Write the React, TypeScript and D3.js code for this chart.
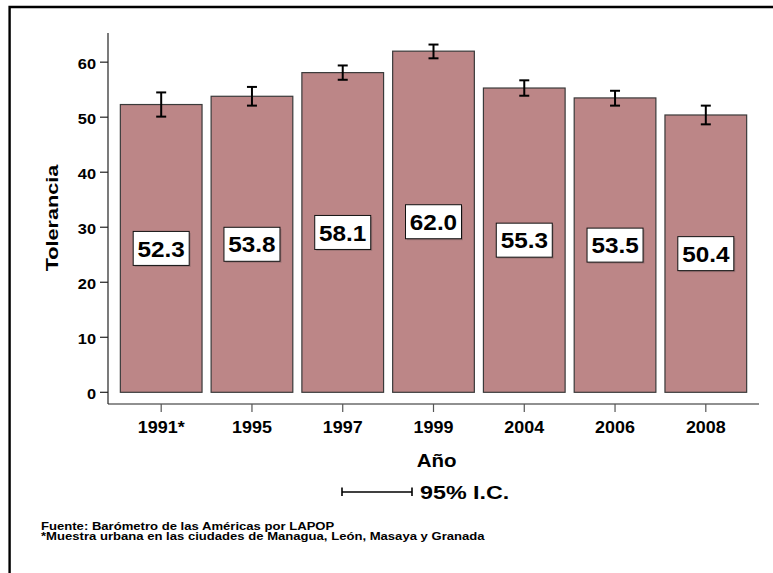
import React from "react";
import * as d3 from "d3";

const years = ["1991*", "1995", "1997", "1999", "2004", "2006", "2008"];
const means = [52.3, 53.8, 58.1, 62.0, 55.3, 53.5, 50.4];
const lower = [50.1, 52.1, 56.8, 60.7, 53.9, 52.1, 48.7];
const upper = [54.5, 55.5, 59.4, 63.2, 56.7, 54.8, 52.1];
const yTicks = [0, 10, 20, 30, 40, 50, 60];

const FONT = "'Liberation Sans', Arial, Helvetica, sans-serif";

function T(props: {
  x: number;
  y: number;
  size: number;
  sx?: number;
  anchor?: string;
  rotate?: number;
  fill?: string;
  children: React.ReactNode;
}) {
  const { x, y, size, sx = 1.15, anchor = "start", rotate = 0, fill = "#000", children } = props;
  return (
    <text
      transform={`translate(${x},${y}) rotate(${rotate}) scale(${sx},1)`}
      textAnchor={anchor}
      fontFamily={FONT}
      fontWeight="bold"
      fontSize={size}
      fill={fill}
    >
      {children}
    </text>
  );
}

export default function App() {
  const W = 773;
  const H = 573;
  const axisLeft = 108;
  const axisRight = 759;
  const axisBottom = 404;

  const y = d3.scaleLinear().domain([0, 65.3]).range([392.3, 33]);
  const x = d3
    .scaleBand<string>()
    .domain(years)
    .range([axisLeft, axisRight])
    .paddingInner(0.1)
    .paddingOuter(0.136);

  const bw = x.bandwidth();
  const boxW = 56;
  const boxH = 34;

  return (
    <svg
      width={W}
      height={H}
      style={{ position: "absolute", left: 0, top: 0, background: "#fff" }}
    >
      <rect x={0} y={0} width={W} height={H} fill="#fff" />
      {/* frame */}
      <path d={`M9.6,${H} V7 H${W}`} fill="none" stroke="#000" strokeWidth={2.4} />

      {/* bars */}
      {years.map((yr, i) => (
        <rect
          key={"b" + yr}
          x={x(yr)!}
          y={y(means[i])}
          width={bw}
          height={y(0) - y(means[i])}
          fill="#bc8687"
          stroke="#3a3a3a"
          strokeWidth={1.2}
        />
      ))}

      {/* error bars */}
      {years.map((yr, i) => {
        const cx = x(yr)! + bw / 2;
        return (
          <g key={"e" + yr} stroke="#000" strokeWidth={2}>
            <line x1={cx} x2={cx} y1={y(upper[i])} y2={y(lower[i])} />
            <line x1={cx - 5} x2={cx + 5} y1={y(upper[i])} y2={y(upper[i])} />
            <line x1={cx - 5} x2={cx + 5} y1={y(lower[i])} y2={y(lower[i])} />
          </g>
        );
      })}

      {/* value labels */}
      {years.map((yr, i) => {
        const cx = x(yr)! + bw / 2;
        const cy = y(means[i] / 2);
        return (
          <g key={"l" + yr}>
            <rect x={cx - boxW / 2 + 1.5} y={cy - boxH / 2 + 1.5} width={boxW} height={boxH} fill="#8a6a6b" opacity={0.6} />
            <rect x={cx - boxW / 2} y={cy - boxH / 2} width={boxW} height={boxH} fill="#fff" stroke="#111" strokeWidth={1} />
            <T x={cx} y={cy + 8.2} size={22.5} sx={1.08} anchor="middle">
              {means[i].toFixed(1)}
            </T>
          </g>
        );
      })}

      {/* y axis */}
      <line x1={axisLeft} x2={axisLeft} y1={33} y2={axisBottom} stroke="#222" strokeWidth={1.2} />
      {yTicks.map((t) => (
        <g key={"yt" + t}>
          <line x1={axisLeft - 8} x2={axisLeft} y1={y(t)} y2={y(t)} stroke="#222" strokeWidth={1.2} />
          <T x={96} y={y(t) + 6.4} size={14} sx={1.17} anchor="end">
            {t}
          </T>
        </g>
      ))}

      {/* x axis */}
      <line x1={axisLeft} x2={axisRight} y1={axisBottom} y2={axisBottom} stroke="#222" strokeWidth={1.2} />
      {years.map((yr) => {
        const cx = x(yr)! + bw / 2;
        return (
          <g key={"xt" + yr}>
            <line x1={cx} x2={cx} y1={axisBottom} y2={axisBottom + 8} stroke="#555" strokeWidth={1.2} />
            <T x={cx} y={433} size={16.3} sx={1.1} anchor="middle">
              {yr}
            </T>
          </g>
        );
      })}

      {/* axis titles */}
      <T x={436.7} y={466.7} size={17.7} sx={1.16} anchor="middle">
        Año
      </T>
      <T x={58.3} y={218} size={17.2} sx={1.26} anchor="middle" rotate={-90}>
        Tolerancia
      </T>

      {/* legend */}
      <g stroke="#000" strokeWidth={1.6}>
        <line x1={342} x2={412} y1={492} y2={492} />
        <line x1={342} x2={342} y1={487.5} y2={496} />
        <line x1={412} x2={412} y1={487.5} y2={496} />
      </g>
      <T x={420} y={499} size={18.5} sx={1.26}>
        95% I.C.
      </T>

      {/* footer */}
      <T x={41} y={529.5} size={10.4} sx={1.26}>
        Fuente: Barómetro de las Américas por LAPOP
      </T>
      <T x={41} y={539.5} size={10.4} sx={1.26}>
        *Muestra urbana en las ciudades de Managua, León, Masaya y Granada
      </T>
    </svg>
  );
}
